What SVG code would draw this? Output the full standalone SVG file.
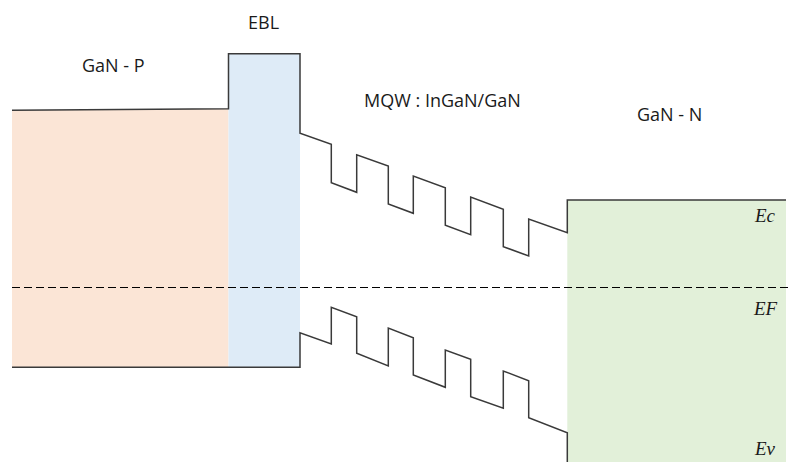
<svg xmlns="http://www.w3.org/2000/svg" width="788" height="462" viewBox="0 0 788 462">
<style>
.band{fill:none;stroke:#3a3a3a;stroke-width:1.5;stroke-linejoin:miter}
.lbl{font-family:"Open Sans","Liberation Sans",sans-serif;font-size:18px;fill:#1a1a1a}
.e{font-family:"Liberation Serif","DejaVu Serif",serif;font-style:italic;font-size:19px;fill:#1a1a1a}
</style>
<rect width="788" height="462" fill="#ffffff"/>
<g id="gan-p">
<polygon points="12,110.3 228.5,108.7 228.5,367.3 12,367.3" fill="#FBE5D6"/>
<text class="lbl" x="82" y="72">GaN - P</text>
</g>
<g id="ebl">
<rect x="228.5" y="53.7" width="71.5" height="313.6" fill="#DEEBF7"/>
<text class="lbl" x="248" y="29">EBL</text>
</g>
<g id="gan-n">
<rect x="567.3" y="200" width="218.7" height="262" fill="#E2F0D9"/>
<text class="lbl" x="637" y="121">GaN - N</text>
<text class="e" x="755" y="222">Ec</text>
<text class="e" x="754" y="315">EF</text>
<text class="e" x="755" y="455">Ev</text>
</g>
<g id="mqw">
<text class="lbl" x="364" y="107">MQW : InGaN/GaN</text>
</g>
<g id="connectors">
<path class="band" d="M12,110.3 L228.5,108.7 L228.5,53.7 L300,53.7 L300,133.3 L331.3,144.3 V182.7 L356.7,192.3 V154.7 L388.3,166 V204 L413.3,213.3 V176 L445.3,187.7 V225.3 L470.7,234.7 V197 L503.3,209.3 V246.7 L528.7,256 V219 L567.3,232.7 V200 H786"/>
<path class="band" d="M12,367.3 H300 V332.7 L331.3,344 V307.3 L356.7,316.7 V353.3 L388.3,366 V328 L413.3,337.7 V375 L445.3,387.3 V350 L470.7,359.3 V396.7 L503.3,408.3 V371 L528.7,380.7 V417.7 L567.3,432.7 V462"/>
<path d="M12,287.5 H788" fill="none" stroke="#000" stroke-width="1.2" stroke-dasharray="8 4"/>
</g>
</svg>
